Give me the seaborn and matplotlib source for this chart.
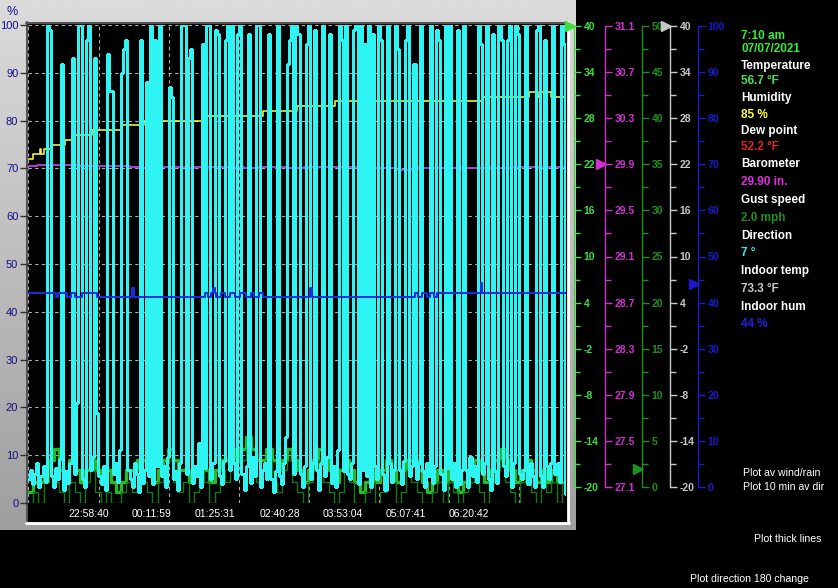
import numpy as np
import matplotlib
matplotlib.use("Agg")
import matplotlib.pyplot as plt
import seaborn as sns

# ---- data ----
# outdoor humidity (%), step changes, time in minutes from start of plot
hum_t = [0, 6, 14, 15.5, 18, 27, 43, 53, 74, 108, 134, 202, 272, 312, 356, 526, 580, 591, 594, 606, 624]
hum_v = [72, 73, 74, 73, 74, 75, 76, 77, 78, 79, 80, 81, 82, 83, 84, 85, 86, 85, 86, 85, 85]

# barometer (in)
baro_t = [0, 10, 60, 118, 128, 138, 185, 192, 250, 268, 300, 320, 400, 425, 450, 560, 624]
baro_v = [29.92, 29.93, 29.92, 29.91, 29.90, 29.91, 29.90, 29.91, 29.90, 29.91, 29.90, 29.91, 29.90,
          29.89, 29.90, 29.91, 29.91]

# indoor humidity (%)
ihum_t = [0, 32, 35, 45, 50, 55, 62, 80, 121, 123, 205, 208, 212, 214, 216, 218, 224, 228, 234, 240,
          246, 252, 258, 262, 268, 272, 276, 327, 329, 448, 452, 456, 462, 466, 470, 474, 479, 524, 526, 624]
ihum_v = [44, 43, 44, 43, 44, 43, 44, 43, 45, 43, 44, 43, 44, 45, 44, 43, 44, 43, 44, 43,
          44, 43, 44, 43, 44, 43, 43, 45, 43, 44, 43, 44, 43, 44, 43, 44, 44, 46, 44, 44]

# wind direction (degrees), one sample every 2.4 min
direction = [18, 25, 14, 22, 30, 12, 20, 28, 16, 360, 356, 20, 12, 26, 18, 33, 331, 10, 24, 15,
             30, 335, 22, 75, 360, 360, 18, 12, 349, 360, 25, 35, 335, 68, 20, 14, 28, 10, 338, 310,
             310, 22, 30, 16, 40, 324, 342, 349, 25, 18, 12, 30, 22, 8, 349, 15, 25, 317, 20, 360,
             14, 349, 28, 360, 20, 28, 12, 35, 313, 306, 18, 24, 10, 30, 360, 360, 22, 335, 342, 15,
             28, 20, 45, 12, 346, 26, 360, 360, 18, 30, 356, 353, 20, 14, 32, 349, 360, 25, 360, 30,
             18, 353, 360, 22, 10, 28, 353, 15, 35, 20, 360, 360, 12, 25, 30, 18, 353, 18, 8, 24,
             360, 20, 14, 30, 50, 331, 349, 360, 22, 360, 353, 22, 12, 28, 346, 360, 18, 30, 356, 25,
             10, 30, 360, 20, 35, 353, 15, 28, 12, 40, 360, 349, 24, 360, 22, 18, 30, 356, 360, 14,
             360, 25, 346, 20, 360, 12, 353, 28, 18, 360, 349, 22, 10, 360, 30, 16, 25, 360, 342, 25,
             14, 32, 349, 360, 20, 28, 331, 18, 30, 360, 24, 12, 30, 20, 360, 15, 28, 356, 349, 22,
             10, 360, 26, 360, 18, 30, 12, 356, 14, 25, 360, 25, 12, 35, 20, 28, 16, 360, 346, 22,
             30, 360, 18, 10, 353, 24, 15, 360, 349, 28, 20, 349, 360, 12, 30, 360, 353, 22, 18, 25,
             360, 14, 30, 20, 12, 356, 360, 20, 12, 349, 28, 18, 30, 360, 22, 30, 16, 360, 346, 7]
dir_step = 2.4

# wind (mph), one sample every 6 min
wind_gust = [1.1, 2.2, 2.2, 3.4, 4.5, 5.7, 3.4, 2.2, 4.5, 3.4,
             2.2, 3.4, 4.5, 3.4, 2.2, 3.4, 2.2, 1.1, 2.2, 3.4,
             3.4, 4.5, 4.5, 3.4, 2.2, 3.4, 4.5, 5.7, 4.5, 3.4,
             3.4, 2.2, 3.4, 4.5, 3.4, 2.2, 3.4, 4.5, 4.5, 5.7,
             4.5, 5.7, 6.9, 5.7, 4.5, 4.5, 5.7, 4.5, 3.4, 4.5,
             5.7, 4.5, 3.4, 2.2, 3.4, 4.5, 5.7, 4.5, 3.4, 2.2,
             3.4, 4.5, 3.4, 2.2, 1.1, 2.2, 3.4, 2.2, 3.4, 4.5,
             3.4, 2.2, 3.4, 4.5, 4.5, 3.4, 2.2, 1.1, 2.2, 3.4,
             2.2, 3.4, 2.2, 1.1, 2.2, 3.4, 4.5, 3.4, 2.2, 3.4,
             4.5, 5.7, 4.5, 3.4, 2.2, 3.4, 4.5, 3.4, 2.2, 3.4,
             2.2, 3.4, 2.2, 2.2]
wind_avg = [0, 1.1, 0, 2.2, 3.4, 2.2, 1.1, 0, 2.2, 1.1,
            0, 2.2, 3.4, 1.1, 0, 1.1, 0, 0, 1.1, 2.2,
            1.1, 3.4, 2.2, 1.1, 0, 2.2, 3.4, 4.5, 2.2, 1.1,
            2.2, 0, 1.1, 3.4, 2.2, 0, 1.1, 3.4, 2.2, 4.5,
            3.4, 4.5, 5.7, 3.4, 2.2, 3.4, 4.5, 2.2, 1.1, 3.4,
            4.5, 2.2, 1.1, 0, 2.2, 3.4, 4.5, 2.2, 1.1, 0,
            1.1, 3.4, 2.2, 0, 0, 1.1, 2.2, 0, 1.1, 3.4,
            2.2, 0, 1.1, 3.4, 2.2, 1.1, 0, 0, 1.1, 2.2,
            0, 2.2, 1.1, 0, 1.1, 2.2, 3.4, 1.1, 0, 2.2,
            3.4, 4.5, 2.2, 1.1, 0, 2.2, 3.4, 1.1, 0, 2.0,
            1.1, 2.2, 0, 2.0]
wind_step = 6

time_ticks = [70, 143.5, 216, 291.5, 364.5, 437, 511]
time_labels = ["22:58:40", "00:11:59", "01:25:31", "02:40:28", "03:53:04", "05:07:41", "06:20:42"]
vgrid = [0.5, 82, 163, 244, 325, 406, 487, 568]
span = 623

# current readings
now_temp, now_baro, now_gust, now_itemp, now_ihum = 56.7, 29.90, 2.0, 73.3, 44
readings = [("7:10 am", "#33ee33"), ("07/07/2021", "#33ee33"),
            ("Temperature", "white"), ("56.7 °F", "#4ee04e"),
            ("Humidity", "white"), ("85 %", "#ffff40"),
            ("Dew point", "white"), ("52.2 °F", "#e02424"),
            ("Barometer", "white"), ("29.90 in.", "#e030e0"),
            ("Gust speed", "white"), ("2.0 mph", "#1f8f1f"),
            ("Direction", "white"), ("7 °", "#30f0f0"),
            ("Indoor temp", "white"), ("73.3 °F", "#c8c8c8"),
            ("Indoor hum", "white"), ("44 %", "#2020e0")]
reading_y = [36, 49, 66, 81, 98, 115, 131, 147, 164, 182, 200, 218, 236, 253, 271, 289, 307, 324]

sns.set_style("dark")
plt.rcParams['font.family'] = ['Liberation Sans', 'DejaVu Sans']

W, H = 838, 588


def box(x0, y0, x1, y1):
    return [x0 / W, 1 - y1 / H, (x1 - x0) / W, (y1 - y0) / H]


fig = plt.figure(figsize=(W / 100, H / 100), dpi=100, facecolor="black")

# grey window panel with plot frame
bg = fig.add_axes(box(0, 0, 576, 530), zorder=-5)
grad = np.linspace(0.86, 0.62, 200).reshape(-1, 1)
bg.imshow(grad, cmap="gray", vmin=0, vmax=1, extent=(0, 576, 530, 0), aspect="auto")
bg.add_patch(plt.Rectangle((26, 22), 542, 501, facecolor="black", edgecolor="none"))
bg.plot([26, 568], [22.5, 22.5], color="#555555", lw=1.5)
bg.plot([26.5, 26.5], [22, 523], color="#555555", lw=1.5)
bg.plot([26, 569], [523, 523], color="white", lw=2)
bg.plot([568, 568], [22, 523], color="white", lw=2)
bg.set_xlim(0, 576)
bg.set_ylim(530, 0)
bg.axis("off")
fig.text(12 / W, 1 - 12 / H, "%", color="#10108a", fontsize=9, ha="center", va="center")

# main plot
ax = fig.add_axes(box(28, 25, 566, 503), zorder=1)
ax.set_facecolor("black")
for s in ax.spines.values():
    s.set_visible(False)
sns.lineplot(x=hum_t, y=hum_v, ax=ax, color="#f0f040", lw=1.2, drawstyle="steps-post",
             estimator=None, sort=False, legend=False)
ax.set_xlim(0, span)
ax.set_ylim(0, 100)
ax.set_yticks(range(0, 101, 10))
ax.grid(axis="y", color="#b0b0b0", ls=(0, (3, 3)), lw=0.8)
for v in vgrid:
    ax.axvline(v, color="#b0b0b0", ls=(0, (3, 3)), lw=0.8, zorder=0.5)
ax.set_xticks(time_ticks)
ax.set_xticklabels(time_labels)
ax.tick_params(axis="x", bottom=False, length=0, pad=4, labelcolor="white", labelsize=7.5)
ax.tick_params(axis="y", left=True, length=6, width=1, color="#303030", pad=1,
               labelcolor="#10108a", labelsize=8)
ax.set_xlabel("")
ax.set_ylabel("")


def twin(lo, hi, z):
    t = ax.twinx()
    t.set_zorder(z)
    t.set_ylim(lo, hi)
    t.set_yticks([])
    for s in t.spines.values():
        s.set_visible(False)
    return t


axw = twin(0, 50, 2)
sns.lineplot(x=[i * wind_step for i in range(len(wind_gust))], y=wind_gust, ax=axw, color="#2cb82c",
             lw=2.4, drawstyle="steps-post", estimator=None, sort=False, legend=False)
sns.lineplot(x=[i * wind_step for i in range(len(wind_avg))], y=wind_avg, ax=axw, color="#157815",
             lw=1.0, drawstyle="steps-post", estimator=None, sort=False, legend=False)
axw.set_ylim(0, 50)

axb = twin(27.1, 31.1, 3)
sns.lineplot(x=baro_t, y=baro_v, ax=axb, color="#b03cd0", lw=1.4, drawstyle="steps-post",
             estimator=None, sort=False, legend=False)
axb.set_ylim(27.1, 31.1)

axd = twin(0, 360, 4)
sns.lineplot(x=[i * dir_step for i in range(len(direction))], y=direction, ax=axd, color="#2ef4f4",
             lw=1.0, drawstyle="steps-post", estimator=None, sort=False, legend=False,
             antialiased=False)
axd.set_ylim(0, 360)

axh = twin(0, 100, 5)
sns.lineplot(x=ihum_t, y=ihum_v, ax=axh, color="#1a2ee0", lw=1.4, drawstyle="steps-post",
             estimator=None, sort=False, legend=False)
axh.set_ylim(0, 100)
for a in (axw, axb, axd, axh):
    a.set_xlim(0, span)
    a.set_ylabel("")


# scale bars on the right
def side_axis(xline, lo, hi, step, color, fmt, value):
    a = fig.add_axes(box(xline - 12, 26, xline, 487), zorder=2)
    a.set_xlim(0, 1)
    a.set_ylim(lo, hi)
    a.patch.set_visible(False)
    for s in ("left", "top", "bottom"):
        a.spines[s].set_visible(False)
    a.spines["right"].set_color(color)
    a.spines["right"].set_linewidth(1)
    a.set_xticks([])
    a.yaxis.tick_right()
    n = int(round((hi - lo) / step))
    a.set_yticks([lo + k * step for k in range(n + 1)])
    a.set_yticks([lo + (k + 0.5) * step for k in range(n)], minor=True)
    a.set_yticklabels([fmt.format(lo + k * step) for k in range(n + 1)])
    a.tick_params(axis="y", which="both", right=True, colors=color, length=5, width=1, pad=2,
                  labelsize=7.5)
    a.tick_params(axis="y", which="minor", length=4)
    for t in a.get_yticklabels():
        t.set_fontweight("bold")
    a.plot([0.64], [min(max(value, lo), hi)], marker=">", ms=7, color=color, clip_on=False, lw=0)
    return a


side_axis(574, -20, 40, 6, "#3ddc3d", "{:.0f}", now_temp)
side_axis(605, 27.1, 31.1, 0.4, "#d030d0", "{:.1f}", now_baro)
side_axis(642, 0, 50, 5, "#1f8f1f", "{:.0f}", now_gust)
side_axis(670, -20, 40, 6, "#c8c8c8", "{:.0f}", now_itemp)
side_axis(698, 0, 100, 10, "#1a1acc", "{:.0f}", now_ihum)

# text readouts
for (label, col), y in zip(readings, reading_y):
    fig.text(741 / W, 1 - y / H, label, color=col, fontsize=8.5, fontweight="bold", va="center")

for label, x, y in [("Plot av wind/rain", 743, 473), ("Plot 10 min av dir", 743, 487),
                    ("Plot thick lines", 754, 539), ("Plot direction 180 change", 690, 579)]:
    fig.text(x / W, 1 - y / H, label, color="white", fontsize=7.6, va="center",
             family=["Liberation Sans Narrow", "Liberation Sans"])

fig.savefig("out.png", dpi=100, facecolor="black")
